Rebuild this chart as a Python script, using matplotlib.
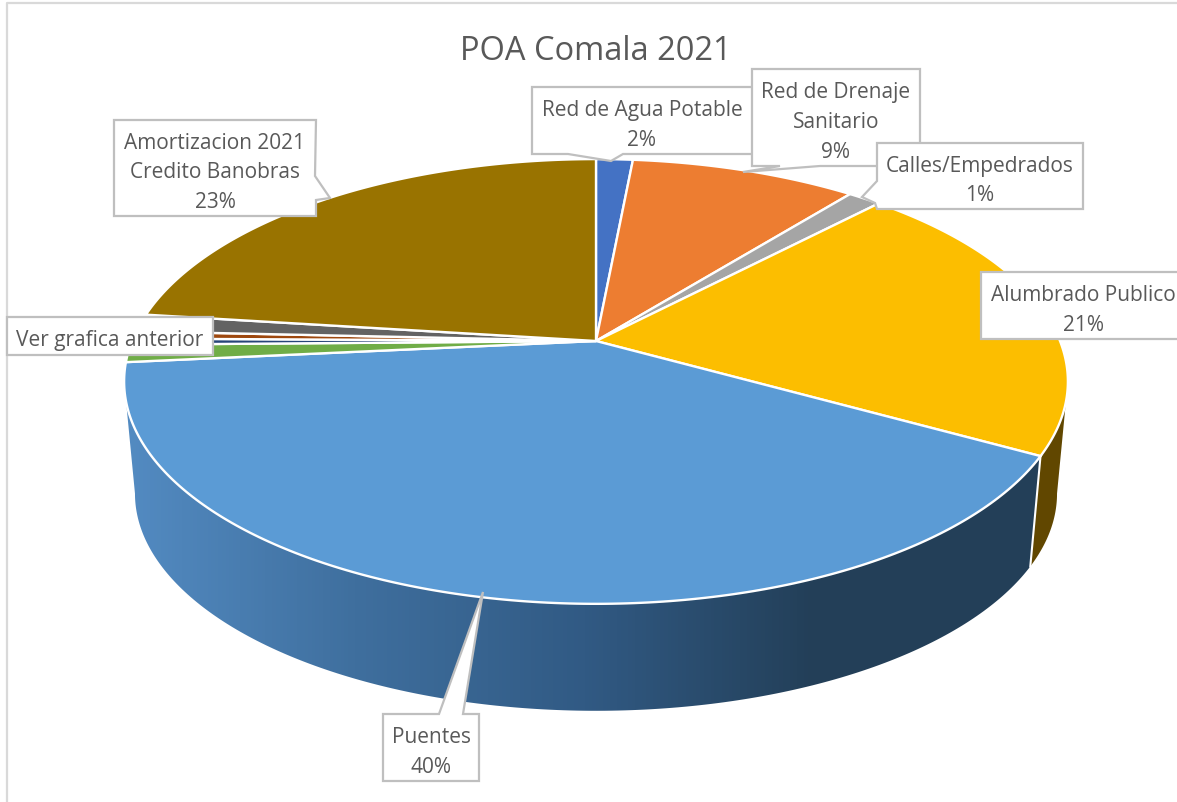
import numpy as np
import matplotlib
matplotlib.use("Agg")
from matplotlib import pyplot as plt
from matplotlib.colors import LinearSegmentedColormap
from matplotlib.patches import Polygon

# slices clockwise from 12 o'clock, percent
slice_names = ["Red de Agua Potable", "Red de Drenaje", "Calles/Empedrados", "Alumbrado Publico",
               "Puentes", "Otros 1", "Otros 2", "Otros 3", "Otros 4", "Amortizacion 2021"]
slice_values = [1.5, 9.25, 1.36, 21.0, 40.35, 1.27, 0.45, 0.54, 1.28, 23.0]
slice_colors = ["#4472C4", "#ED7D31", "#A5A5A5", "#FCBE00", "#5B9BD5",
                "#70AD47", "#264478", "#9E480E", "#636363", "#997300"]

label_texts = ["Red de Agua Potable\n2%", "Red de Drenaje\nSanitario\n9%", "Calles/Empedrados\n1%",
               "Alumbrado Publico\n21%", "Puentes\n40%", "Ver grafica anterior",
               "Amortizacion 2021\nCredito Banobras\n23%"]

# box (x0, y0, x1, y1), side with the pointer, pointer points
label_boxes = [
    ((532, 88, 760, 155), "bottom", [(623, 155), (611, 162), (568, 155)]),
    ((752, 70, 920, 167), "bottom", [(820, 167), (743, 173), (780, 167)]),
    ((877, 144, 1083, 210), "left", [(875, 204), (862, 198), (877, 182)]),
    ((981, 273, 1190, 340), None, None),
    ((383, 715, 479, 782), "top", [(439, 715), (483, 593), (463, 715)]),
    ((7, 318, 213, 356), None, None),
    ((114, 121, 316, 217), "right", [(315, 177), (330, 199), (316, 201)]),
]

# pie geometry in pixels
CX, CY = 596, 342
A, B, K = 464, 215, 0.182
DEPTH, SHRINK = 113, 0.977


def top_point(theta):
    # perspective of the unit circle, theta clockwise from the top
    u, v = np.sin(theta), np.cos(theta)
    return CX + A * u / (1 + K * v), CY - B * v / (1 + K * v)


def bottom_point(theta):
    x, y = top_point(theta)
    return CX + (x - CX) * SHRINK, CY + DEPTH + (y - CY) * SHRINK


def wall_path(t0, t1):
    t = np.linspace(t0, t1, 200)
    xt, yt = top_point(t)
    xb, yb = bottom_point(t)
    return np.r_[np.c_[xt, yt], np.c_[xb, yb][::-1]]


def callout(box, side, pointer):
    x0, y0, x1, y1 = box
    pts = {"top": [], "right": [], "bottom": [], "left": []}
    if side:
        pts[side] = pointer
    return [(x0, y0)] + pts["top"] + [(x1, y0)] + pts["right"] + [(x1, y1)] + pts["bottom"] + [(x0, y1)] + pts["left"]


plt.rcParams['font.family'] = ['Open Sans', 'DejaVu Sans']
fig = plt.figure(figsize=(11.77, 8.03), dpi=100)
ax = fig.add_axes([0, 0, 1, 1])
ax.set_xlim(0, 1177)
ax.set_ylim(803, 0)
ax.axis("off")

# chart frame, only left and top show
ax.plot([7, 7, 1177], [803, 3.5, 3.5], color="#D9D9D9", lw=1.6, zorder=1)

edges = np.r_[0, np.cumsum(slice_values)] / np.sum(slice_values) * 2 * np.pi

# angle where the rim turns back, the wall stops there
tangent = np.arccos(-K)

# walls: Alumbrado (dark amber) and Puentes (gradient)
amber = Polygon(wall_path(tangent, edges[4]), closed=True, fc="#614700", ec="none", zorder=2)
ax.add_patch(amber)

wall = Polygon(wall_path(edges[4], 2 * np.pi - tangent), closed=True, fc="none", ec="none", zorder=3)
ax.add_patch(wall)
wall_cmap = LinearSegmentedColormap.from_list("wall", ["#538BC2", "#3F6F9E", "#315A84", "#233F58", "#233F58"])
grad = ax.imshow(np.linspace(0, 1, 256)[None, :], cmap=wall_cmap, extent=(125, 1045, 720, 340),
                 aspect="auto", zorder=3)
grad.set_clip_path(wall)
ax.set_xlim(0, 1177)
ax.set_ylim(803, 0)

# white seam between the two walls
xs, ys = top_point(edges[4])
xe, ye = bottom_point(edges[4])
ax.plot([xs, xe], [ys, ye], color="white", lw=1.5, zorder=4)

# top face
for i in range(len(slice_values)):
    t = np.linspace(edges[i], edges[i + 1], 200)
    x, y = top_point(t)
    ax.add_patch(Polygon(np.c_[np.r_[CX, x], np.r_[CY, y]], closed=True, fc=slice_colors[i],
                         ec="white", lw=1.7, zorder=5))

ax.text(596, 52, "POA Comala 2021", ha="center", va="center", fontsize=23.5, color="#595959", zorder=8)

for i, (box, side, pointer) in enumerate(label_boxes):
    ax.add_patch(Polygon(callout(box, side, pointer), closed=True, fc="white", ec="#BFBFBF", lw=1.6, zorder=6 + i * 0.1))
    xc = (box[0] + box[2]) / 2
    yc = (box[1] + box[3]) / 2 + 4
    if i == 0:
        xc = 642
    if i == 3:
        xc = 1083
    ax.text(xc, yc, label_texts[i], ha="center", va="center", fontsize=15, color="#595959",
            linespacing=1.55, zorder=6.05 + i * 0.1)

fig.savefig("out.png", dpi=100)
